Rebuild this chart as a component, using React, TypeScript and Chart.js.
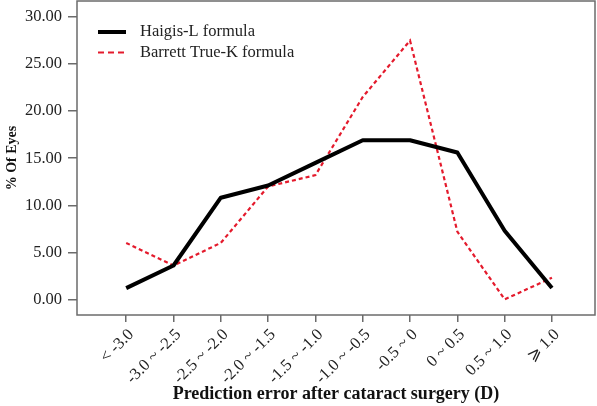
import { useEffect, useRef } from 'react'
import { Chart, registerables, type Plugin } from 'chart.js'

Chart.register(...registerables)

const categories = [
  '< -3.0',
  '-3.0 ~ -2.5',
  '-2.5 ~ -2.0',
  '-2.0 ~ -1.5',
  '-1.5 ~ -1.0',
  '-1.0 ~ -0.5',
  '-0.5 ~ 0',
  '0 ~ 0.5',
  '0.5 ~ 1.0',
  '⩾ 1.0',
]

const haigisValues = [1.2, 3.6, 10.8, 12.1, 14.5, 16.9, 16.9, 15.6, 7.3, 1.2]
const barrettValues = [6.0, 3.6, 6.0, 12.0, 13.2, 21.5, 27.5, 7.2, 0.0, 2.3]

const yTicks = [0, 5, 10, 15, 20, 25, 30]

const FRAME = '#6b6b6b'
const SERIF = '"Liberation Serif", "DejaVu Serif", serif'

// R-style box around the plotting region
const framePlugin: Plugin<'line'> = {
  id: 'frame',
  afterDraw(chart) {
    const { ctx, chartArea } = chart
    ctx.save()
    ctx.strokeStyle = FRAME
    ctx.lineWidth = 1.5
    ctx.strokeRect(chartArea.left, chartArea.top, chartArea.right - chartArea.left, chartArea.bottom - chartArea.top)
    ctx.restore()
  },
}

// legend drawn inside the plot, top left
const insideLegendPlugin: Plugin<'line'> = {
  id: 'insideLegend',
  afterDatasetsDraw(chart) {
    const { ctx, chartArea } = chart
    ctx.save()
    ctx.font = `16.5px ${SERIF}`
    ctx.textBaseline = 'middle'
    chart.data.datasets.forEach((dataset, i) => {
      const y = chartArea.top + 31 + i * 20.5
      const x0 = chartArea.left + 21
      ctx.beginPath()
      ctx.strokeStyle = dataset.borderColor as string
      ctx.lineWidth = i === 0 ? 4 : 2
      ctx.setLineDash(i === 0 ? [] : [6, 4])
      ctx.moveTo(x0, y)
      ctx.lineTo(x0 + 28, y)
      ctx.stroke()
      ctx.setLineDash([])
      ctx.fillStyle = '#222'
      ctx.fillText(dataset.label ?? '', x0 + 42, y)
    })
    ctx.restore()
  },
}

function App() {
  const canvasRef = useRef<HTMLCanvasElement | null>(null)

  useEffect(() => {
    document.body.style.margin = '0'
    if (!canvasRef.current) {
      return undefined
    }

    const chart = new Chart(canvasRef.current, {
      type: 'line',
      data: {
        datasets: [
          {
            label: 'Haigis-L formula',
            data: haigisValues.map((value, i) => ({ x: i, y: value })),
            borderColor: '#000000',
            borderWidth: 4,
            pointRadius: 0,
            tension: 0,
            borderJoinStyle: 'round',
          },
          {
            label: 'Barrett True-K formula',
            data: barrettValues.map((value, i) => ({ x: i, y: value })),
            borderColor: '#e41a2c',
            borderWidth: 2.2,
            borderDash: [4, 3],
            pointRadius: 0,
            tension: 0,
          },
        ],
      },
      options: {
        animation: false,
        responsive: true,
        maintainAspectRatio: false,
        layout: {
          padding: { top: 1, right: 2, left: 0, bottom: 0 },
        },
        plugins: {
          legend: { display: false },
          tooltip: { enabled: false },
        },
        scales: {
          x: {
            type: 'linear',
            min: -1.04,
            max: 9.91,
            afterBuildTicks: (scale) => {
              scale.ticks = categories.map((_, i) => ({ value: i }))
            },
            afterFit: (scale) => {
              scale.height = 91
              scale.paddingLeft = 0
              scale.paddingRight = 0
            },
            ticks: {
              autoSkip: false,
              minRotation: 45,
              maxRotation: 45,
              padding: 3,
              labelOffset: 5,
              color: '#222',
              font: { family: SERIF, size: 16.5 },
              callback: (value) => categories[Number(value)] ?? '',
            },
            grid: {
              drawOnChartArea: false,
              drawTicks: true,
              tickLength: 7,
              color: FRAME,
              lineWidth: 1.5,
            },
            border: { display: false },
            title: {
              display: true,
              text: 'Prediction error after cataract surgery (D)',
              color: '#111',
              font: { family: SERIF, size: 18, weight: 'bold' },
              padding: { top: 0, bottom: 1 },
            },
          },
          y: {
            type: 'linear',
            min: -1.66,
            max: 31.7,
            afterBuildTicks: (scale) => {
              scale.ticks = yTicks.map((value) => ({ value }))
            },
            afterFit: (scale) => {
              scale.width = 77
              scale.paddingTop = 0
              scale.paddingBottom = 0
            },
            ticks: {
              padding: 6,
              color: '#222',
              font: { family: SERIF, size: 16.5 },
              callback: (value) => Number(value).toFixed(2),
            },
            grid: {
              drawOnChartArea: false,
              drawTicks: true,
              tickLength: 9,
              color: FRAME,
              lineWidth: 1.5,
            },
            border: { display: false },
            title: {
              display: true,
              text: '% Of Eyes',
              color: '#111',
              font: { family: SERIF, size: 14, weight: 'bold' },
              padding: { top: 4, bottom: 0 },
            },
          },
        },
      },
      plugins: [framePlugin, insideLegendPlugin],
    })

    return () => {
      chart.destroy()
    }
  }, [])

  return (
    <div style={{ width: 597, height: 406, position: 'relative' }}>
      <canvas ref={canvasRef} />
    </div>
  )
}

export default App
